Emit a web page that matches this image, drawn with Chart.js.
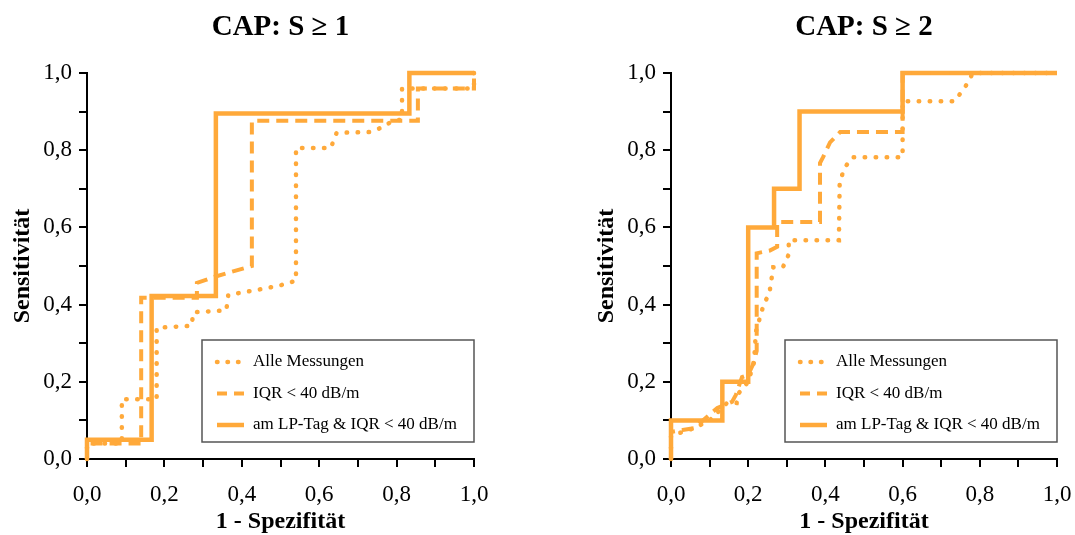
<!DOCTYPE html>
<html>
<head>
<meta charset="utf-8">
<script src="https://cdn.jsdelivr.net/npm/chart.js@4/dist/chart.umd.min.js"></script>
<style>
  html, body { margin: 0; padding: 0; background: #fff; }
  .wrap { position: absolute; top: 0; height: 535px; }
</style>
</head>
<body>
<div class="wrap" style="left:0;width:537px"><canvas id="capS1" width="537" height="535"></canvas></div>
<div class="wrap" style="left:537px;width:538px"><canvas id="capS2" width="538" height="535"></canvas></div>
<script>
// Legendentexte
const seriesLabels = ['Alle Messungen', 'IQR < 40 dB/m', 'am LP-Tag & IQR < 40 dB/m'];
const chartTitles = ['CAP: S \u2265 1', 'CAP: S \u2265 2'];

// CAP: S >= 1  (x = 1 - Spezifität, y = Sensitivität)
const s1AlleX = [0, 0, 0.09, 0.09, 0.18, 0.18, 0.27, 0.275, 0.36, 0.365, 0.45, 0.5, 0.54, 0.54, 0.63, 0.645, 0.73, 0.76, 0.785, 0.814, 0.814, 1, 1];
const s1AlleY = [0, 0.04, 0.04, 0.155, 0.155, 0.34, 0.345, 0.38, 0.385, 0.425, 0.44, 0.45, 0.462, 0.806, 0.806, 0.845, 0.847, 0.858, 0.873, 0.88, 0.96, 0.96, 1];
const s1IqrX = [0, 0, 0.14, 0.14, 0.284, 0.284, 0.326, 0.37, 0.426, 0.426, 0.855, 0.855, 1, 1];
const s1IqrY = [0, 0.04, 0.04, 0.418, 0.418, 0.456, 0.471, 0.484, 0.5, 0.876, 0.876, 0.96, 0.96, 1];
const s1LpX = [0, 0, 0.167, 0.167, 0.333, 0.333, 0.833, 0.833, 1];
const s1LpY = [0, 0.05, 0.05, 0.422, 0.422, 0.895, 0.895, 1, 1];

// CAP: S >= 2
const s2AlleX = [0, 0, 0.03, 0.06, 0.1, 0.145, 0.17, 0.175, 0.2, 0.215, 0.22, 0.24, 0.255, 0.265, 0.29, 0.305, 0.305, 0.435, 0.437, 0.45, 0.47, 0.6, 0.6, 0.735, 0.766, 0.782, 1];
const s2AlleY = [0, 0.06, 0.07, 0.08, 0.1, 0.145, 0.145, 0.17, 0.2, 0.25, 0.33, 0.4, 0.43, 0.497, 0.497, 0.53, 0.567, 0.567, 0.718, 0.755, 0.782, 0.782, 0.927, 0.927, 0.97, 1, 1];
const s2IqrX = [0, 0, 0.03, 0.06, 0.093, 0.12, 0.158, 0.168, 0.184, 0.2, 0.212, 0.222, 0.222, 0.256, 0.275, 0.275, 0.386, 0.386, 0.394, 0.412, 0.438, 0.6, 0.6, 1];
const s2IqrY = [0, 0.07, 0.075, 0.08, 0.109, 0.132, 0.148, 0.166, 0.212, 0.218, 0.244, 0.28, 0.533, 0.54, 0.55, 0.614, 0.614, 0.767, 0.782, 0.82, 0.847, 0.847, 1, 1];
const s2LpX = [0, 0, 0.133, 0.133, 0.2, 0.2, 0.267, 0.267, 0.333, 0.333, 0.6, 0.6, 1];
const s2LpY = [0, 0.1, 0.1, 0.2, 0.2, 0.6, 0.6, 0.7, 0.7, 0.9, 0.9, 1, 1];

const orange = '#FFA93A';
Chart.defaults.font.family = "'Liberation Serif', 'Times New Roman', serif";
Chart.defaults.color = '#000';

function toPoints(xs, ys) {
    return xs.map((x, i) => ({ x: x, y: ys[i] }));
}

function fmtTick(value) {
    const n = Math.round(value * 10);
    if (n % 2 !== 0) return '';
    return (n / 10).toFixed(1).replace('.', ',');
}

// Titel und Legende (Legende liegt innerhalb der Zeichenfläche)
const capDeco = {
    id: 'capDeco',
    afterDraw(chart, args, opts) {
        const ctx = chart.ctx;
        const area = chart.chartArea;
        ctx.save();
        ctx.fillStyle = '#000';
        ctx.textAlign = 'center';
        ctx.textBaseline = 'middle';
        ctx.font = "bold 29px 'Liberation Serif', serif";
        ctx.fillText(opts.title, (area.left + area.right) / 2, 28);

        const bw = 272, bh = 102;
        const bx = area.right - bw, by = 340;
        ctx.strokeStyle = '#555';
        ctx.lineWidth = 1.5;
        ctx.strokeRect(bx, by, bw, bh);

        ctx.font = "17px 'Liberation Serif', serif";
        ctx.textAlign = 'left';
        chart.data.datasets.forEach((ds, i) => {
            const y = by + 22 + i * 31.5;
            ctx.beginPath();
            ctx.strokeStyle = ds.borderColor;
            ctx.lineWidth = ds.borderWidth;
            ctx.lineCap = ds.borderCapStyle || 'butt';
            ctx.setLineDash(ds.legendDash || []);
            ctx.moveTo(bx + 15, y);
            ctx.lineTo(bx + 42, y);
            ctx.stroke();
            ctx.setLineDash([]);
            ctx.fillText(ds.label, bx + 51, y);
        });
        ctx.restore();
    }
};

function makeChart(canvasId, title, alle, iqr, lp, padLeft, padRight) {
    const ctx = document.getElementById(canvasId).getContext('2d');
    const axisStyle = {
        grid: { drawOnChartArea: false, color: '#000', lineWidth: 2, tickLength: 8 },
        border: { color: '#000', width: 2 }
    };
    return new Chart(ctx, {
        type: 'line',
        data: {
            datasets: [
                {
                    label: seriesLabels[0],
                    data: alle,
                    borderColor: orange,
                    borderWidth: 4.5,
                    borderDash: [0.5, 10.5],
                    legendDash: [0.5, 10],
                    borderCapStyle: 'round',
                    pointRadius: 0,
                    tension: 0,
                    clip: 6
                },
                {
                    label: seriesLabels[1],
                    data: iqr,
                    borderColor: orange,
                    borderWidth: 4,
                    borderDash: [12, 7],
                    legendDash: [10, 7],
                    pointRadius: 0,
                    tension: 0,
                    clip: 6
                },
                {
                    label: seriesLabels[2],
                    data: lp,
                    borderColor: orange,
                    borderWidth: 4.5,
                    pointRadius: 0,
                    tension: 0,
                    clip: 6
                }
            ]
        },
        options: {
            responsive: false,
            animation: false,
            layout: { padding: { top: 73, left: padLeft, right: padRight, bottom: 0 } },
            plugins: {
                legend: { display: false },
                tooltip: { enabled: false },
                capDeco: { title: title }
            },
            scales: {
                x: {
                    type: 'linear',
                    min: 0,
                    max: 1,
                    ...axisStyle,
                    ticks: { stepSize: 0.1, autoSkip: false, maxRotation: 0, padding: 14,
                             font: { size: 23 }, callback: fmtTick },
                    title: { display: true, text: '1 - Spezifit\u00e4t',
                             font: { size: 24, weight: 'bold', lineHeight: 1.1 },
                             padding: { top: 0, bottom: 0 } },
                    afterFit: (scale) => {
                        scale.height = 76;
                        scale.paddingLeft = 0;
                        scale.paddingRight = 0;
                    }
                },
                y: {
                    type: 'linear',
                    min: 0,
                    max: 1,
                    ...axisStyle,
                    ticks: { stepSize: 0.1, autoSkip: false, padding: 7,
                             font: { size: 23 }, callback: fmtTick },
                    title: { display: true, text: 'Sensitivit\u00e4t',
                             font: { size: 24, weight: 'bold', lineHeight: 1.1 },
                             padding: { top: 10, bottom: 0 } },
                    afterFit: (scale) => {
                        scale.width = 87;
                        scale.paddingTop = 0;
                        scale.paddingBottom = 0;
                    }
                }
            }
        },
        plugins: [capDeco]
    });
}

makeChart('capS1', chartTitles[0],
    toPoints(s1AlleX, s1AlleY), toPoints(s1IqrX, s1IqrY), toPoints(s1LpX, s1LpY), 0, 63);
makeChart('capS2', chartTitles[1],
    toPoints(s2AlleX, s2AlleY), toPoints(s2IqrX, s2IqrY), toPoints(s2LpX, s2LpY), 47, 18);
</script>
</body>
</html>
